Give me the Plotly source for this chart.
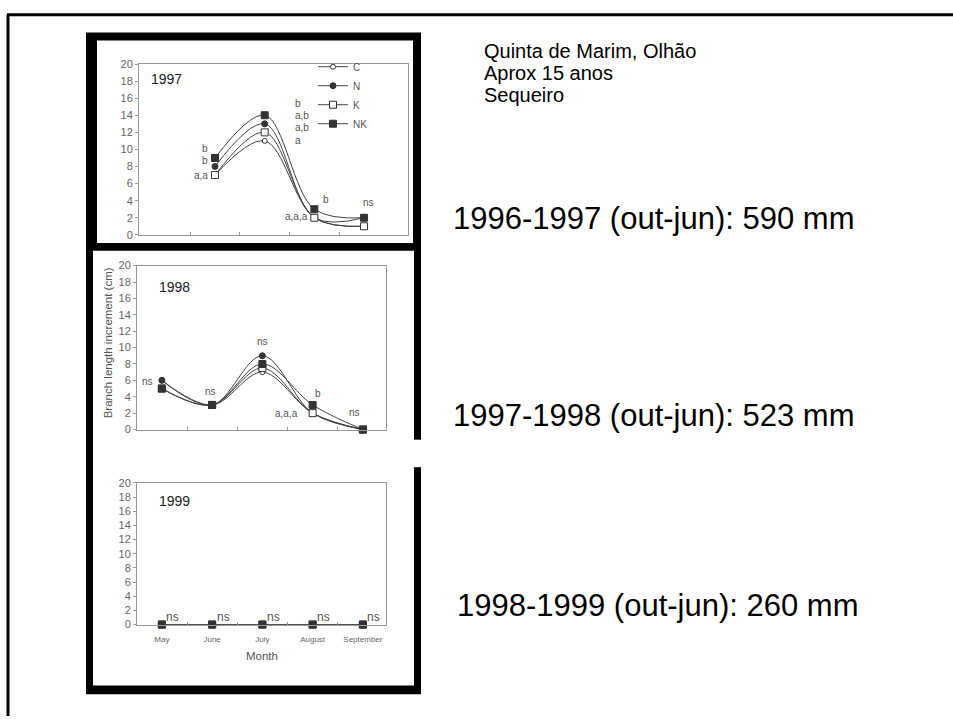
import plotly.graph_objects as go

# ---------------- data ----------------
months = ["May", "June", "July", "August", "September"]
month_pos = [1, 2, 3, 4, 5]
treatments = ["C", "N", "K", "NK"]

c_1997 = [None, 7, 11, 2, 1]
n_1997 = [None, 8, 13, 2, 2]
k_1997 = [None, 7, 12, 2, 1]
nk_1997 = [None, 9, 14, 3, 2]

c_1998 = [6, 3, 7, 2, 0]
n_1998 = [6, 3, 9, 2, 0]
k_1998 = [5, 3, 7.5, 2, 0]
nk_1998 = [5, 3, 8, 3, 0]

c_1999 = [0, 0, 0, 0, 0]
n_1999 = [0, 0, 0, 0, 0]
k_1999 = [0, 0, 0, 0, 0]
nk_1999 = [0, 0, 0, 0, 0]

y_ticks = [0, 2, 4, 6, 8, 10, 12, 14, 16, 18, 20]
between_ticks = [1.5, 2.5, 3.5, 4.5]

# significance letters: (text, x, y, xanchor)
sig_1997 = [("b", 1.9, 10.1, "right"), ("b", 1.9, 8.75, "right"), ("a,a", 1.9, 6.95, "right"),
            ("b", 3.58, 15.4, "left"), ("a,b", 3.58, 14.0, "left"), ("a,b", 3.58, 12.6, "left"),
            ("a", 3.58, 11.1, "left"), ("b", 4.23, 4.15, "center"), ("a,a,a", 3.92, 2.2, "right"),
            ("ns", 5.08, 3.8, "center")]
sig_1998 = [("ns", 0.87, 5.9, "right"), ("ns", 1.97, 4.7, "center"), ("ns", 3.0, 10.8, "center"),
            ("b", 4.1, 4.4, "center"), ("a,a,a", 3.75, 2.0, "right"), ("ns", 4.84, 2.1, "center")]
sig_1999 = ["ns", "ns", "ns", "ns", "ns"]

rain_texts = ["1996-1997 (out-jun): 590 mm", "1997-1998 (out-jun): 523 mm", "1998-1999 (out-jun): 260 mm"]
site_texts = ["Quinta de Marim, Olhão", "Aprox 15 anos", "Sequeiro"]

# ---------------- helpers ----------------
W, H = 953, 722
def px(x):
    return x / W
def py(y):
    return 1 - y / H

DARK = "#333333"
GRAY = "#999999"
TXT = "#555555"
FONT = "Liberation Sans, Arial, sans-serif"

styles = {
    "C": dict(symbol="circle", size=5, color="white", line=dict(color=DARK, width=1)),
    "N": dict(symbol="circle", size=6, color=DARK, line=dict(color=DARK, width=1)),
    "K": dict(symbol="square", size=7, color="white", line=dict(color=DARK, width=1)),
    "NK": dict(symbol="square", size=7, color=DARK, line=dict(color=DARK, width=1)),
}

fig = go.Figure()

series = [
    ("x", "y", [c_1997, n_1997, k_1997, nk_1997], True),
    ("x2", "y2", [c_1998, n_1998, k_1998, nk_1998], False),
    ("x3", "y3", [c_1999, n_1999, k_1999, nk_1999], False),
]
for xa, ya, vals, show in series:
    for name, v in zip(treatments, vals):
        fig.add_trace(go.Scatter(
            x=month_pos, y=v, name=name, xaxis=xa, yaxis=ya,
            mode="lines+markers", showlegend=show, cliponaxis=False,
            line=dict(color="#444444", width=1, shape="spline", smoothing=1.0),
            marker=styles[name],
        ))

axis_common = dict(showline=True, linecolor=GRAY, linewidth=1, mirror=True,
                   showgrid=False, zeroline=False)
ycommon = dict(axis_common, range=[0, 20], tickvals=y_ticks, ticks="outside", ticklen=3,
               tickcolor=GRAY, tickfont=dict(family=FONT, size=11, color="#666666"))

shapes = []
# outer frame lines
shapes.append(dict(type="line", xref="paper", yref="paper", x0=px(7), x1=px(953), y0=py(9), y1=py(9),
                   line=dict(color="black", width=3)))
shapes.append(dict(type="line", xref="paper", yref="paper", x0=px(8), x1=px(8), y0=py(9), y1=py(722),
                   line=dict(color="black", width=3)))
# black picture frame
shapes.append(dict(type="rect", xref="paper", yref="paper", x0=px(86), x1=px(421), y0=py(27), y1=py(700),
                   fillcolor="black", line=dict(width=0), layer="below"))
shapes.append(dict(type="rect", xref="paper", yref="paper", x0=px(97), x1=px(413), y0=py(35), y1=py(241),
                   fillcolor="white", line=dict(width=0), layer="below"))
shapes.append(dict(type="rect", xref="paper", yref="paper", x0=px(93), x1=px(414), y0=py(249), y1=py(691),
                   fillcolor="white", line=dict(width=0), layer="below"))
shapes.append(dict(type="rect", xref="paper", yref="paper", x0=px(413), x1=px(423), y0=py(441), y1=py(469),
                   fillcolor="white", line=dict(width=0), layer="below"))

annotations = []
def add_ann(text, x, y, xref, yref, size=10, color=TXT, xanchor="center", **kw):
    annotations.append(dict(text=text, x=x, y=y, xref=xref, yref=yref, showarrow=False,
                            xanchor=xanchor, yanchor="middle",
                            font=dict(family=FONT, size=size, color=color), **kw))

for t, x, y, xa in sig_1997:
    add_ann(t, x, y, "x", "y", xanchor=xa)
for t, x, y, xa in sig_1998:
    add_ann(t, x, y, "x2", "y2", xanchor=xa)
for t, m in zip(sig_1999, month_pos):
    add_ann(t, m, 1.0, "x3", "y3", size=12, xshift=11)

add_ann("1997", 1.03, 18.3, "x", "y", size=14, color="#222222")
add_ann("1998", 1.26, 17.4, "x2", "y2", size=14, color="#222222")
add_ann("1999", 1.26, 17.5, "x3", "y3", size=14, color="#222222")

add_ann("Branch length increment (cm)", px(108), py(343), "paper", "paper", size=11.5,
        color="#555555", textangle=-90)
add_ann("Month", px(262), py(661), "paper", "paper", size=11.5, color="#555555")

for t, yy in zip(site_texts, [46, 68.5, 91]):
    add_ann(t, px(482), py(yy), "paper", "paper", size=20, color="black", xanchor="left")
for t, xx, yy in zip(rain_texts, [451, 451, 455], [216, 416, 610]):
    add_ann(t, px(xx), py(yy), "paper", "paper", size=31, color="black", xanchor="left")

fig.update_layout(
    width=W, height=H, margin=dict(l=0, r=0, t=0, b=0),
    paper_bgcolor="white", plot_bgcolor="rgba(0,0,0,0)",
    font=dict(family=FONT),
    xaxis=dict(axis_common, domain=[px(139), px(408)], range=[0.47, 5.885], anchor="y",
               tickvals=between_ticks, ticks="inside", ticklen=3, tickcolor=GRAY, showticklabels=False),
    yaxis=dict(ycommon, domain=[py(232.7), py(59)], anchor="x"),
    xaxis2=dict(axis_common, domain=[px(137), px(386)], range=[0.505, 5.46], anchor="y2",
                tickvals=between_ticks, ticks="inside", ticklen=3, tickcolor=GRAY, showticklabels=False),
    yaxis2=dict(ycommon, domain=[py(430.7), py(264)], anchor="x2"),
    xaxis3=dict(axis_common, domain=[px(137), px(386)], range=[0.505, 5.46], anchor="y3",
                tickvals=month_pos, ticktext=months, ticks="outside", ticklen=7,
                tickcolor="rgba(0,0,0,0)",
                tickfont=dict(family=FONT, size=8, color="#666666"),
                minor=dict(tickvals=between_ticks, ticks="inside", ticklen=3, tickcolor=GRAY)),
    yaxis3=dict(ycommon, domain=[py(629), py(485)], anchor="x3"),
    legend=dict(x=px(313), y=py(47), xanchor="left", yanchor="top", bgcolor="rgba(0,0,0,0)",
                font=dict(family=FONT, size=10, color="#555555"), itemwidth=30, tracegroupgap=0),
    shapes=shapes, annotations=annotations,
)

fig.write_html("out.html", config={"displayModeBar": False},
               post_script="document.body.style.margin='0';document.body.style.overflow='hidden';")
